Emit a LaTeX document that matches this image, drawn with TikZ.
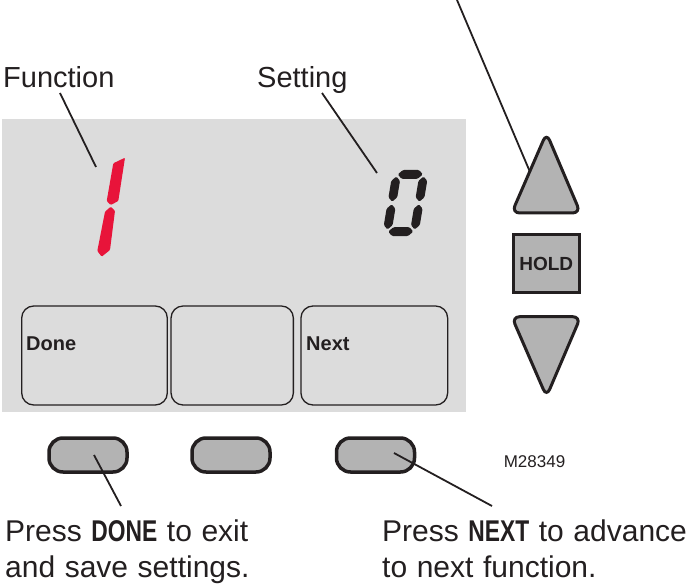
\documentclass[tikz,border=0pt]{standalone}
\usepackage{fontspec}
\setmainfont{Liberation Sans}
\newfontfamily\notefont{Liberation Sans}[WordSpace=1.15]
\newfontfamily\condbold{Liberation Sans}[FakeStretch=0.76]
\newcommand{\kw}[1]{{\condbold\bfseries #1}}
\definecolor{ink}{RGB}{35,31,32}
\definecolor{lcdgray}{RGB}{220,220,220}
\definecolor{btngray}{RGB}{179,179,179}
\definecolor{segred}{RGB}{232,20,58}
\newcommand{\segH}[3]{\fill[rounded corners=1.2pt] (#1,#3) -- (#1+4.4,#3+4.4) -- (#2-4.4,#3+4.4) -- (#2,#3) -- (#2-4.4,#3-4.4) -- (#1+4.4,#3-4.4) -- cycle;}
\newcommand{\segV}[3]{\fill[rounded corners=1.2pt] (#1,#2) -- (#1+4.4,#2+4.4) -- (#1+4.4,#3-4.4) -- (#1,#3) -- (#1-4.4,#3-4.4) -- (#1-4.4,#2+4.4) -- cycle;}
\begin{document}
\begin{tikzpicture}[x=1pt,y=-1pt,
  lbl/.style={inner sep=0pt, text=ink, font=\fontsize{29}{37}\selectfont},
  note/.style={inner sep=0pt, text=ink, align=left, font=\notefont\fontsize{30}{36}\selectfont},
  leader/.style={draw=ink, line width=1.8pt},
  softkey/.style={draw=ink, line width=1.3pt, rounded corners=12pt, inner sep=0pt, minimum height=99pt},
  hwbtn/.style={draw=ink, fill=btngray, line width=3.5pt, rounded corners=14pt, minimum width=78pt, minimum height=34pt, inner sep=0pt},
  keytext/.style={inner sep=0pt, text=ink, font=\fontsize{20}{24}\selectfont\bfseries}]
\useasboundingbox (0,0) rectangle (687,585);
% display
\node (lcd) [fill=lcdgray, minimum width=464pt, minimum height=293pt, inner sep=0pt, anchor=north west] at (2,119) {};
% labels
\node (fnlabel) [lbl, anchor=base west] at (3,88) {Function};
\node (setlabel) [lbl, anchor=base west] at (257,88) {Setting};
% function digit 1 (red)
\fill[segred, rounded corners=1pt] (113.3,163.3) -- (125,157.7) -- (118.3,201) -- (110.7,205) -- (106.7,201) -- cycle;
\fill[segred, rounded corners=1pt] (110.7,206.7) -- (115,210.7) -- (110,250) -- (101.7,256.7) -- (97.3,251) -- (105,211.7) -- cycle;
% setting digit 0
\begin{scope}[shift={(382,236)}, y=1pt, xslant=0.167, ink]
  \segH{5.5}{30.5}{61.6}
  \segH{5.5}{30.5}{4.4}
  \segV{4.4}{34.3}{59.5}
  \segV{31.6}{34.3}{59.5}
  \segV{4.4}{6.5}{31.7}
  \segV{31.6}{6.5}{31.7}
\end{scope}
% soft keys
\node (skdone) [softkey, minimum width=145.6pt] at (94.5,355.5) {};
\node (skmid) [softkey, minimum width=122.3pt] at (232.2,355.5) {};
\node (sknext) [softkey, minimum width=146.7pt] at (374.3,355.5) {};
\node (donekey) [keytext, anchor=base west] at (26,350) {Done};
\node (nextkey) [keytext, anchor=base west] at (306,350) {Next};
% hardware buttons
\node (btndone) [hwbtn] at (88,455) {};
\node (btnmid) [hwbtn] at (231,455) {};
\node (btnnext) [hwbtn] at (375.5,455) {};
\node (model) [inner sep=0pt, text=ink, font=\fontsize{17}{20}\selectfont] at (534.5,462) {M28349};
% right side buttons
\draw[ink, fill=btngray, line width=3pt, rounded corners=8pt] (546,213) -- (511.7,213) -- (546.5,133) -- (580.5,213) -- cycle;
\node (hold) [draw=ink, fill=btngray, line width=3pt, minimum width=66pt, minimum height=57.5pt, inner sep=0pt, text=ink, font=\fontsize{19}{22}\selectfont\bfseries] at (546.2,263.5) {HOLD};
\draw[ink, fill=btngray, line width=3pt, rounded corners=8pt] (546,316.7) -- (580.7,316.7) -- (546.5,396.7) -- (511.7,316.7) -- cycle;
% bottom texts (anchor at baseline of the last line)
\node (donetxt) [note, anchor=base west] at (5,577) {Press \kw{DONE} to exit\\and save settings.};
\node (nexttxt) [note, anchor=base west] at (382,577) {Press \kw{NEXT} to advance\\to next function.};
% leader coordinates
\coordinate (fnA) at (60,93);
\coordinate (fnB) at (96,167);
\coordinate (setA) at (322,93);
\coordinate (setB) at (377,173);
\coordinate (upA) at (457,0);
\coordinate (upB) at (530,172);
\coordinate (doneA) at (94,455);
\coordinate (doneB) at (121,506);
\coordinate (nextA) at (394,453);
\coordinate (nextB) at (492,506);
\draw[leader] (fnA) -- (fnB);
\draw[leader] (setA) -- (setB);
\draw[leader] (upA) -- (upB);
\draw[leader] (doneA) -- (doneB);
\draw[leader] (nextA) -- (nextB);
\end{tikzpicture}
\end{document}
